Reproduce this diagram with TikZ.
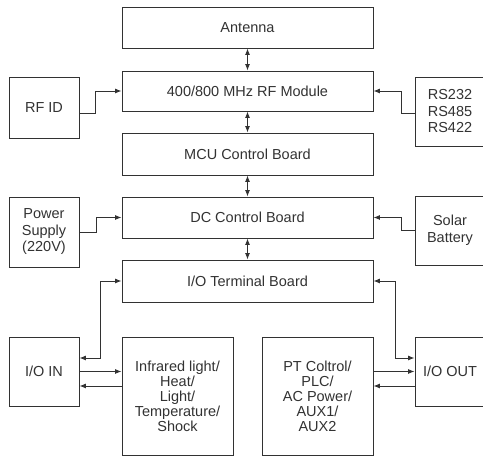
\documentclass[tikz,border=0pt]{standalone}
\usepackage{fontspec}
\setmainfont{Liberation Sans}
\usepackage{tikz}
\usetikzlibrary{arrows.meta}
\usepackage{xcolor}
\definecolor{linegray}{RGB}{50, 50, 50}
\definecolor{textgray}{RGB}{50, 50, 50}

\begin{document}
\begin{tikzpicture}[x=1pt, y=-1pt, >={Latex[length=6.5pt, width=5pt]},
    blk/.style={draw=linegray, line width=0.9pt, text=textgray, align=center,
      inner sep=0pt, font=\fontsize{14.5}{16.5}\selectfont},
    wide/.style={blk, minimum width=251pt},
    side/.style={blk, minimum width=70pt, minimum height=69pt},
    tall/.style={blk, minimum width=111pt, minimum height=118pt,
      font=\fontsize{14.5}{15}\selectfont},
    link/.style={draw=linegray, line width=0.9pt}]
    \useasboundingbox (0, 0) rectangle (483, 457);
    % main column
    \node[wide, minimum height=41pt] (ant) at (247.5, 27.5) {Antenna};
    \node[wide, minimum height=40pt] (rfm) at (247.5, 91) {400/800 MHz RF Module};
    \node[wide, minimum height=42pt] (mcu) at (247.5, 154) {MCU Control Board};
    \node[wide, minimum height=41pt] (dcb) at (247.5, 217.5) {DC Control Board};
    \node[wide, minimum height=42pt] (iot) at (247.5, 281) {I/O Terminal Board};
    % side boxes
    \node[side, minimum height=61pt] (rfid) at (44, 107.5) {RF ID};
    \node[side] (rs) at (450, 111.5) {RS232\\RS485\\RS422};
    \node[side, minimum height=70pt] (pwr) at (44, 232) {Power\\Supply\\(220V)};
    \node[side] (sol) at (450, 230.5) {Solar\\Battery};
    \node[side] (ioin) at (44, 371.5) {I/O IN};
    \node[side] (ioout) at (450, 371.5) {I/O OUT};
    \node[tall] (sens) at (177.5, 396) {Infrared light/\\Heat/\\Light/\\Temperature/\\Shock};
    \node[tall] (ctrl) at (317.5, 396) {PT Coltrol/\\PLC/\\AC Power/\\AUX1/\\AUX2};
    % vertical links
    \draw[link, <->] (ant) -- (rfm);
    \draw[link, <->] (rfm) -- (mcu);
    \draw[link, <->] (mcu) -- (dcb);
    \draw[link, <->] (dcb) -- (iot);
    % inputs to the column
    \draw[link, ->] ([yshift=-5.5pt]rfid.east) -- ++(16, 0) |- (rfm.west);
    \draw[link, ->] ([yshift=-1.5pt]rs.west) -- ++(-13, 0) |- (rfm.east);
    \draw[link, ->] (pwr.east) -- ++(17, 0) |- (dcb.west);
    \draw[link, ->] (sol.west) -- ++(-13, 0) |- (dcb.east);
    \draw[link, <->] ([yshift=13.5pt]ioin.east) -- ++(21, 0) |- (iot.west);
    \draw[link, <->] ([yshift=13.5pt]ioout.west) -- ++(-19, 0) |- (iot.east);
    % bottom row
    \coordinate (inret) at ([yshift=-14.5pt]ioin.east);
    \coordinate (outret) at ([yshift=-14.5pt]ioout.west);
    \draw[link, ->] (ioin.east) -- (ioin.east -| sens.west);
    \draw[link, ->] (inret -| sens.west) -- (inret);
    \draw[link, ->] (ioout.west -| ctrl.east) -- (ioout.west);
    \draw[link, ->] (outret) -- (outret -| ctrl.east);
  \end{tikzpicture}
\end{document}
